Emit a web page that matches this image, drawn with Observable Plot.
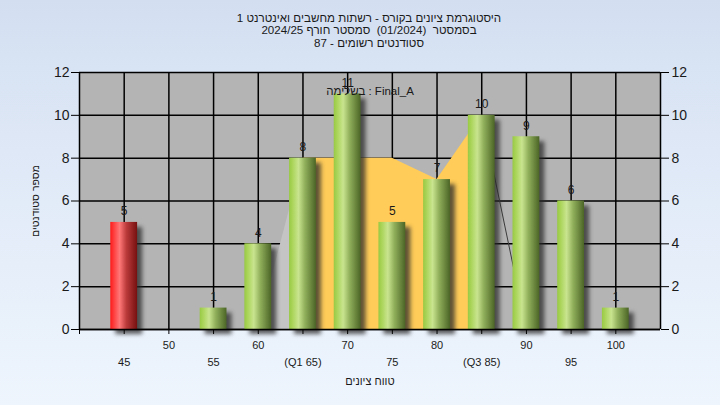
<!DOCTYPE html>
<html>
<head>
<meta charset="utf-8">
<script src="https://cdn.jsdelivr.net/npm/d3@7"></script>
<script src="https://cdn.jsdelivr.net/npm/@observablehq/plot@0.6"></script>
<style>
  html, body { margin: 0; padding: 0; }
  #wrap {
    position: relative; width: 720px; height: 405px; overflow: hidden;
    background: linear-gradient(180deg, #d3dff1 0%, #e2ebf8 50%, #eef5fd 100%);
    font-family: "Liberation Sans", Arial, sans-serif;
  }
  #title {
    position: absolute; left: 0; top: 12px; width: 738px; text-align: center;
    font-size: 11.6px; line-height: 12.3px; color: #1a1a1a; direction: rtl;
  }
  #chart { position: absolute; left: 0; top: 0; }
</style>
</head>
<body>
<div id="wrap">
  <div id="chart"></div>
  <div id="title">
    <div>היסטוגרמת ציונים בקורס - רשתות מחשבים ואינטרנט 1</div>
    <div>בסמסטר&nbsp; (01/2024)&nbsp; סמסטר חורף 2024/25</div>
    <div>סטודנטים רשומים - 87</div>
  </div>
</div>
<script>
// ---- data ----
const bins = [45, 50, 55, 60, 65, 70, 75, 80, 85, 90, 95, 100];
const counts = [5, 0, 1, 4, 8, 11, 5, 7, 10, 9, 6, 1];
const barKind = ["fail", "pass", "pass", "pass", "pass", "pass", "pass", "pass", "pass", "pass", "pass", "pass"];

const shapeX = [60, 65, 70, 75, 80, 85, 90];
const shapeY = [0, 8, 8, 8, 7, 10, 0];

const tickRow1Values = [50, 60, 70, 80, 90, 100];
const tickRow1Labels = ["50", "60", "70", "80", "90", "100"];
const tickRow2Values = [45, 55, 65, 75, 85, 95];
const tickRow2Labels = ["45", "55", "(Q1 65)", "75", "(Q3 85)", "95"];
const xTickMarks = [40, 45, 50, 55, 60, 65, 70, 75, 80, 85, 90, 95, 100];
const yTicks = [0, 2, 4, 6, 8, 10, 12];

const xTitle = "טווח ציונים";
const yTitle = "מספר סטודנטים";
const legendText = "בשלימה : Final_A";

// ---- tables ----
const bars = bins.map((b, i) => ({bin: b, count: counts[i], kind: barKind[i]}));
const shape = shapeX.map((x, i) => ({x, y: shapeY[i]}));
const leftPart = shape.filter(d => d.x <= 65);
const midPart = shape.filter(d => d.x >= 65 && d.x <= 85);
const rightPart = shape.filter(d => d.x >= 85);
const row2 = tickRow2Values.map((v, i) => ({v, label: tickRow2Labels[i]}));
const halfW = 1.5;

const chart = Plot.plot({
  width: 720,
  height: 405,
  marginLeft: 79,
  marginRight: 60,
  marginTop: 72,
  marginBottom: 76,
  style: {background: "transparent", fontFamily: "Liberation Sans, Arial, sans-serif", fontSize: "13px", color: "#1a1a1a", overflow: "visible"},
  x: {domain: [40, 105], axis: null},
  y: {domain: [0, 12], axis: null},
  marks: [
    Plot.frame({fill: "#b4b4b4", stroke: null}),
    Plot.gridX(bins, {stroke: "#000", strokeOpacity: 1, strokeWidth: 1.5}),
    Plot.gridY(yTicks, {stroke: "#000", strokeOpacity: 1, strokeWidth: 1.5}),
    Plot.areaY(leftPart, {x: "x", y: "y", fill: "#c4c4c4"}),
    Plot.areaY(midPart, {x: "x", y: "y", fill: "#ffcc59"}),
    Plot.line(rightPart, {x: "x", y: "y", stroke: "#3a3a3a", strokeWidth: 1}),
    // shadows
    Plot.rectY(bars.filter(d => d.count > 0), {x1: d => d.bin - halfW, x2: d => d.bin + halfW, y1: 0, y2: "count", fill: "#2a2a2a", fillOpacity: 0.75, dx: 5, dy: 5}),
    // bars
    Plot.rectY(bars.filter(d => d.count > 0 && d.kind === "fail"), {x1: d => d.bin - halfW, x2: d => d.bin + halfW, y1: 0, y2: "count", fill: "url(#gradRed)"}),
    Plot.rectY(bars.filter(d => d.count > 0 && d.kind === "pass"), {x1: d => d.bin - halfW, x2: d => d.bin + halfW, y1: 0, y2: "count", fill: "url(#gradGreen)"}),
    // axes lines
    Plot.ruleX([40, 105], {y1: 0, y2: 12, stroke: "#000", strokeWidth: 1.5}),
    Plot.ruleY([0], {x1: 40, x2: 105, stroke: "#000", strokeWidth: 1.5}),
    Plot.axisY({anchor: "left", ticks: yTicks, tickSize: 8, tickPadding: 2, fontSize: 14, label: null, stroke: "#000"}),
    Plot.axisY({anchor: "right", ticks: yTicks, tickSize: 8, tickPadding: 3, fontSize: 14, label: null, stroke: "#000"}),
    Plot.axisX({ticks: xTickMarks, tickSize: 5, tickFormat: () => "", label: null, stroke: "#000"}),
    Plot.axisX({ticks: tickRow1Values, tickSize: 0, tickPadding: 12, tickFormat: (d) => tickRow1Labels[tickRow1Values.indexOf(d)], fontSize: 11, label: null}),
    Plot.text(row2, {x: "v", text: "label", frameAnchor: "bottom", dy: 36, fontSize: 11, fill: "#1a1a1a"}),
    // value labels
    Plot.text(bars.filter(d => d.count > 0), {x: "bin", y: "count", text: d => String(d.count), dy: -11, fontSize: 12, fill: "#1a1a1a"}),
    // titles
    Plot.text([xTitle], {frameAnchor: "bottom", textAnchor: "middle", dy: 55, fontSize: 11, fill: "#1a1a1a"}),
    Plot.text([yTitle], {frameAnchor: "left", textAnchor: "middle", dx: -44, rotate: -90, fontSize: 10.5, fill: "#1a1a1a"}),
    Plot.text([legendText], {frameAnchor: "top", textAnchor: "middle", dy: 14, fontSize: 11.5, fill: "#1a1a1a"})
  ]
});

document.getElementById("chart").appendChild(chart);

// gradients for cylinder-like bars
const svg = d3.select(chart);
const defs = svg.insert("defs", ":first-child");
function grad(id, stops) {
  const g = defs.append("linearGradient").attr("id", id).attr("x1", "0").attr("x2", "1").attr("y1", "0").attr("y2", "0");
  stops.forEach(([o, c]) => g.append("stop").attr("offset", o).attr("stop-color", c));
}
grad("gradGreen", [[0, "#98c944"], [0.12, "#a9d458"], [0.35, "#c9e48f"], [0.6, "#8fae5a"], [1, "#4b6526"]]);
grad("gradRed", [[0, "#ff1a1a"], [0.12, "#ff3a3a"], [0.35, "#ff7878"], [0.6, "#bb3a3a"], [1, "#761010"]]);
svg.selectAll('g[fill="#2a2a2a"]').style("filter", "blur(2px)");
</script>
</body>
</html>
